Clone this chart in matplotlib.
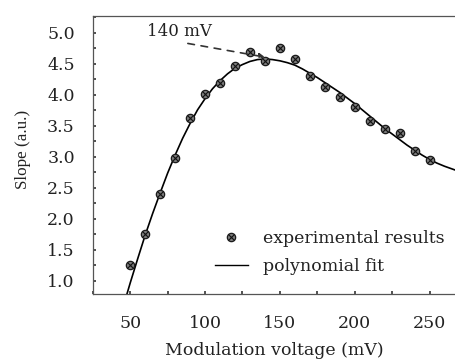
import matplotlib
matplotlib.use("Agg")
import matplotlib.pyplot as plt
from matplotlib.lines import Line2D

# Experimental data
volt = [50, 60, 70, 80, 90, 100, 110, 120, 130, 140, 150, 160, 170, 180, 190, 200, 210, 220, 230, 240, 250]
slope = [1.25, 1.75, 2.40, 2.99, 3.62, 4.02, 4.20, 4.46, 4.69, 4.55, 4.75, 4.58, 4.31, 4.12, 3.96, 3.81, 3.58, 3.45, 3.38, 3.10, 2.95]

# Polynomial fit curve
fit_v = [47.8, 50, 55, 60, 65, 70, 75, 80, 85, 90, 95, 100, 105, 110, 115, 120, 125, 130, 135, 140,
         145, 150, 155, 160, 165, 170, 175, 180, 185, 190, 195, 200, 205, 210, 215, 220, 225, 230,
         235, 240, 245, 250, 255, 260, 267]
fit_s = [0.79, 0.97, 1.36, 1.74, 2.09, 2.42, 2.74, 3.03, 3.30, 3.54, 3.76, 3.94, 4.10, 4.23, 4.34, 4.43, 4.49, 4.54, 4.57, 4.58,
         4.57, 4.55, 4.52, 4.48, 4.42, 4.35, 4.28, 4.20, 4.12, 4.04, 3.95, 3.86, 3.76, 3.66, 3.56, 3.46, 3.37, 3.28,
         3.19, 3.11, 3.03, 2.96, 2.90, 2.85, 2.79]

xticks = [50, 100, 150, 200, 250]
yticks = [1.0, 1.5, 2.0, 2.5, 3.0, 3.5, 4.0, 4.5, 5.0]

plt.rcParams['font.family'] = ['DejaVu Serif']
plt.rcParams['mathtext.fontset'] = 'dejavuserif'

fig = plt.figure(figsize=(4.55, 3.59), dpi=100)
ax = fig.add_axes([0.204, 0.181, 0.796, 0.774])

ax.plot(fit_v, fit_s, color='black', lw=1.2, zorder=2)
ax.plot(volt, slope, linestyle='none', marker='o', ms=6, mfc='#7a7a7a', mec='#1a1a1a', mew=0.9, zorder=3)
ax.plot(volt, slope, linestyle='none', marker='x', ms=4, mec='#111111', mew=0.8, zorder=4)

ax.annotate('', xy=(140, 4.61), xytext=(88.5, 4.83),
            arrowprops=dict(arrowstyle='-|>', linestyle=(0, (4, 4)), color='#333333', lw=1.2,
                            mutation_scale=8, shrinkA=0, shrinkB=0))
ax.text(83, 5.02, '140 mV', fontsize=12, ha='center', va='center', color='#222222')

ax.set_xlim(25, 267)
ax.set_ylim(0.79, 5.27)
ax.set_xticks(xticks)
ax.set_yticks(yticks)
ax.set_xticks([25, 75, 125, 175, 225], minor=True)
ax.set_yticks([1.25, 1.75, 2.25, 2.75, 3.25, 3.75, 4.25, 4.75, 5.25], minor=True)
ax.set_yticklabels([f'{v:.1f}' for v in yticks])
ax.tick_params(axis='both', which='both', direction='in', length=2.5, width=1.2, color='#333333',
               labelsize=12.5, labelcolor='#222222')
ax.tick_params(axis='y', which='both', pad=13)
ax.tick_params(axis='x', which='both', pad=15)

for s in ['top', 'bottom', 'left']:
    ax.spines[s].set_linestyle((0, (2, 1)))
    ax.spines[s].set_color('#555555')
    ax.spines[s].set_linewidth(0.9)
ax.spines['right'].set_visible(False)

ax.set_xlabel('Modulation voltage (mV)', fontsize=12.5, color='#222222', labelpad=7.5)
ax.set_ylabel('Slope (a.u.)', fontsize=12.3, color='#222222',
              family=['Liberation Serif', 'DejaVu Serif'])
ax.yaxis.set_label_coords(-0.17, 0.52)

h_pts = (Line2D([], [], linestyle='none', marker='o', ms=6, mfc='#7a7a7a', mec='#1a1a1a', mew=0.9),
         Line2D([], [], linestyle='none', marker='x', ms=4, mec='#111111', mew=0.8))
h_fit = Line2D([], [], color='black', lw=1.0)
leg = ax.legend([h_pts, h_fit], ['experimental results', 'polynomial fit'],
                loc='upper left', bbox_to_anchor=(0.318, 0.256), frameon=False, fontsize=12.5,
                handlelength=1.9, handletextpad=0.86, labelspacing=0.62, borderaxespad=0)
for t in leg.get_texts():
    t.set_color('#222222')

fig.savefig('out.png', dpi=100)
